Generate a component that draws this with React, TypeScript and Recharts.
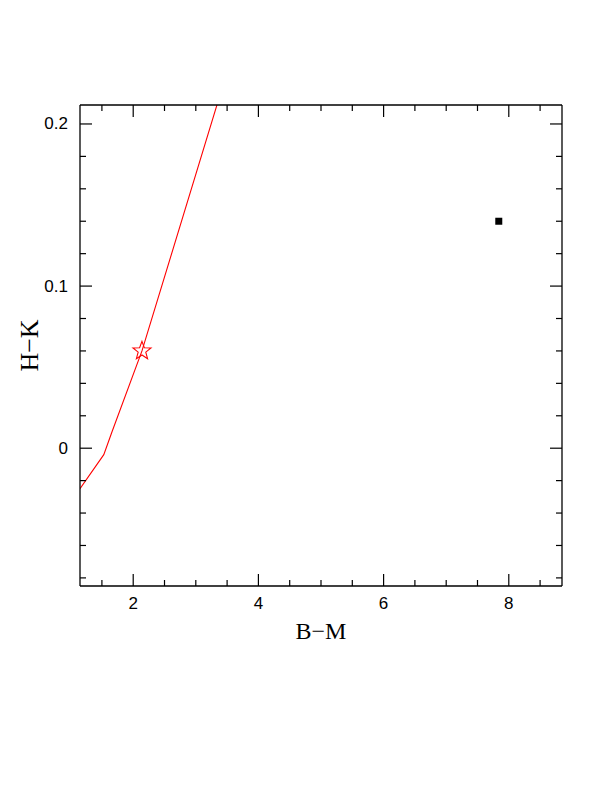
import {
  ComposedChart,
  Line,
  Scatter,
  XAxis,
  YAxis,
} from "recharts";

// model track (B-M vs H-K)
const trackBM = [1.15, 1.53, 1.66, 2.14, 3.34];
const trackHK = [-0.025, -0.004, 0.01, 0.06, 0.212];

// marked model point (star) and observed object (square)
const starBM = [2.14];
const starHK = [0.06];
const obsBM = [7.84];
const obsHK = [0.14];

const xTicks = [1.5, 2, 2.5, 3, 3.5, 4, 4.5, 5, 5.5, 6, 6.5, 7, 7.5, 8, 8.5];
const yTicks = [-0.08, -0.06, -0.04, -0.02, 0, 0.02, 0.04, 0.06, 0.08, 0.1, 0.12, 0.14, 0.16, 0.18, 0.2];
const xMajor = [2, 4, 6, 8];
const yMajor = [0, 0.1, 0.2];
const yLabels: Record<string, string> = { "0": "0", "0.1": "0.1", "0.2": "0.2" };

const xDomain = [1.15, 8.85];
const yDomain = [-0.085, 0.2117];

const track = trackBM.map((x, i) => ({ x, y: trackHK[i] }));
const star = starBM.map((x, i) => ({ x, y: starHK[i] }));
const obs = obsBM.map((x, i) => ({ x, y: obsHK[i] }));

const tickFont = "'Liberation Sans', Arial, sans-serif";
const labelFont = "'Liberation Serif', 'Times New Roman', serif";

function XTick(props: any) {
  const { x, y, payload, side } = props;
  const major = xMajor.includes(payload.value);
  const len = major ? 12 : 6;
  const dir = side === "bottom" ? -1 : 1;
  return (
    <g>
      <line x1={x} x2={x} y1={y} y2={y + dir * len} stroke="#000" strokeWidth={1.2} />
      {side === "bottom" && major && (
        <text
          x={x}
          y={y + 17}
          textAnchor="middle"
          dominantBaseline="central"
          fontFamily={tickFont}
          fontSize={17}
          fill="#000"
        >
          {payload.value}
        </text>
      )}
    </g>
  );
}

function YTick(props: any) {
  const { x, y, payload, side } = props;
  const major = yMajor.some((m) => Math.abs(m - payload.value) < 1e-9);
  const len = major ? 12 : 6;
  const dir = side === "left" ? 1 : -1;
  const key = String(Math.round(payload.value * 10) / 10);
  return (
    <g>
      <line x1={x} x2={x + dir * len} y1={y} y2={y} stroke="#000" strokeWidth={1.2} />
      {side === "left" && major && (
        <text
          x={x - 12}
          y={y}
          textAnchor="end"
          dominantBaseline="central"
          fontFamily={tickFont}
          fontSize={17}
          fill="#000"
        >
          {yLabels[key]}
        </text>
      )}
    </g>
  );
}

function StarShape(props: any) {
  const { cx, cy } = props;
  const ro = 9.5;
  const ri = 4;
  const pts: string[] = [];
  for (let i = 0; i < 10; i++) {
    const r = i % 2 === 0 ? ro : ri;
    const a = -Math.PI / 2 + (i * Math.PI) / 5;
    pts.push(`${cx + r * Math.cos(a)},${cy + r * Math.sin(a)}`);
  }
  return <polygon points={pts.join(" ")} fill="none" stroke="#ff0000" strokeWidth={1.1} />;
}

function SquareShape(props: any) {
  const { cx, cy } = props;
  return <rect x={cx - 3.5} y={cy - 3.5} width={7} height={7} fill="#000" />;
}

export default function App() {
  return (
    <div style={{ width: 596, height: 700, background: "#fff" }}>
      <ComposedChart
        width={596}
        height={700}
        margin={{ top: 87, right: 32, bottom: 82, left: 12 }}
      >
        <XAxis
          xAxisId="b"
          type="number"
          dataKey="x"
          domain={xDomain}
          allowDataOverflow
          ticks={xTicks}
          interval={0}
          orientation="bottom"
          height={40}
          tickSize={0}
          tickMargin={0}
          tickLine={false}
          axisLine={{ stroke: "#000", strokeWidth: 1.3 }}
          tick={<XTick side="bottom" />}
          label={{
            content: ({ viewBox }: any) => (
              <text
                x={viewBox.x + viewBox.width / 2}
                y={viewBox.y + 45}
                textAnchor="middle"
                dominantBaseline="central"
                fontFamily={labelFont}
                fontSize={24}
                fill="#000"
              >
                B−M
              </text>
            ),
          }}
        />
        <XAxis
          xAxisId="t"
          type="number"
          dataKey="x"
          domain={xDomain}
          allowDataOverflow
          ticks={xTicks}
          interval={0}
          orientation="top"
          height={10}
          tickSize={0}
          tickMargin={0}
          tickLine={false}
          axisLine={{ stroke: "#000", strokeWidth: 1.3 }}
          tick={<XTick side="top" />}
        />
        <YAxis
          yAxisId="l"
          type="number"
          dataKey="y"
          domain={yDomain}
          allowDataOverflow
          ticks={yTicks}
          interval={0}
          orientation="left"
          width={60}
          tickSize={0}
          tickMargin={0}
          tickLine={false}
          axisLine={{ stroke: "#000", strokeWidth: 1.3 }}
          tick={<YTick side="left" />}
          label={{
            content: ({ viewBox }: any) => {
              const cx = viewBox.x + viewBox.width - 51;
              const cy = viewBox.y + viewBox.height / 2;
              return (
                <text
                  x={cx}
                  y={cy}
                  transform={`rotate(-90 ${cx} ${cy})`}
                  textAnchor="middle"
                  dominantBaseline="central"
                  fontFamily={labelFont}
                  fontSize={26}
                  fill="#000"
                >
                  H−K
                </text>
              );
            },
          }}
        />
        <YAxis
          yAxisId="r"
          type="number"
          dataKey="y"
          domain={yDomain}
          allowDataOverflow
          ticks={yTicks}
          interval={0}
          orientation="right"
          width={10}
          tickSize={0}
          tickMargin={0}
          tickLine={false}
          axisLine={{ stroke: "#000", strokeWidth: 1.3 }}
          tick={<YTick side="right" />}
        />
        <Line
          xAxisId="b"
          yAxisId="l"
          data={track}
          dataKey="y"
          type="linear"
          stroke="#ff0000"
          strokeWidth={1.1}
          dot={false}
          activeDot={false}
          isAnimationActive={false}
        />
        <Scatter
          xAxisId="b"
          yAxisId="l"
          data={star}
          dataKey="y"
          shape={<StarShape />}
          isAnimationActive={false}
        />
        <Scatter
          xAxisId="b"
          yAxisId="l"
          data={obs}
          dataKey="y"
          shape={<SquareShape />}
          isAnimationActive={false}
        />
      </ComposedChart>
    </div>
  );
}
